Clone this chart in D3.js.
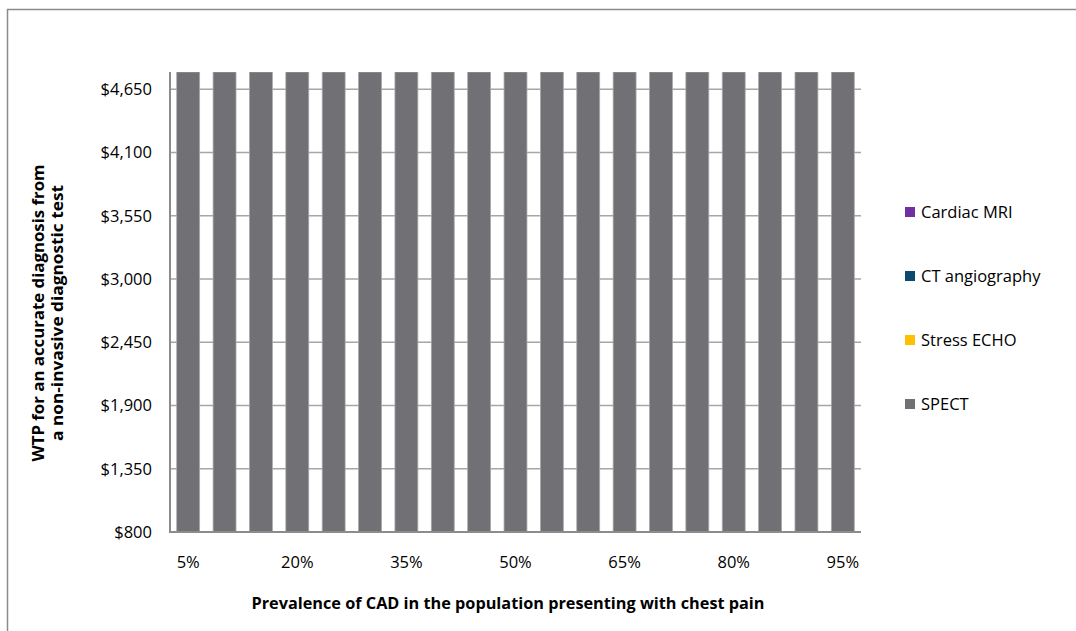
<!DOCTYPE html>
<html><head><meta charset="utf-8">
<script src="https://cdn.jsdelivr.net/npm/d3@7"></script>
<style>
html,body{margin:0;padding:0;background:#fff;}
svg{display:block;}
text{font-family:"Open Sans","Noto Sans",sans-serif;fill:#000;}
</style></head>
<body><svg id="c" width="1076" height="631"></svg>
<script>
const categories = ["5%","10%","15%","20%","25%","30%","35%","40%","45%","50%","55%","60%","65%","70%","75%","80%","85%","90%","95%"];
const tickLabelsX = ["5%","20%","35%","50%","65%","80%","95%"];
const yTicks = [800,1350,1900,2450,3000,3550,4100,4650];
const seriesNames = ["Cardiac MRI","CT angiography","Stress ECHO","SPECT"];
const seriesColors = ["#7030a0","#0b4a6e","#ffc000","#717074"];
const cardiacMRI = [0,0,0,0,0,0,0,0,0,0,0,0,0,0,0,0,0,0,0];
const ctAngio    = [0,0,0,0,0,0,0,0,0,0,0,0,0,0,0,0,0,0,0];
const stressEcho = [0,0,0,0,0,0,0,0,0,0,0,0,0,0,0,0,0,0,0];
const spect      = [5000,5000,5000,5000,5000,5000,5000,5000,5000,5000,5000,5000,5000,5000,5000,5000,5000,5000,5000];

const svg = d3.select("#c");
svg.append("rect").attr("x",7.5).attr("y",9.5).attr("width",1080).attr("height",640)
  .attr("fill","none").attr("stroke","#8c8c8c").attr("stroke-width",1.5);

const L=170, R=861, T=72, B=532;
const FS = 16.5;
const x = d3.scaleBand().domain(categories).range([L,R]).paddingInner(0.37).paddingOuter(0.185);
const y = d3.scaleLinear().domain([800,4800]).range([B,T]);

const rows = categories.map((c,i)=>({cat:c,"Cardiac MRI":cardiacMRI[i],"CT angiography":ctAngio[i],"Stress ECHO":stressEcho[i],"SPECT":spect[i]}));
const stack = d3.stack().keys(["SPECT","Stress ECHO","CT angiography","Cardiac MRI"]);
const stacked = stack(rows);

svg.append("g").selectAll("line").data(yTicks.slice(1)).join("line")
  .attr("x1",L).attr("x2",R).attr("y1",d=>y(d)).attr("y2",d=>y(d))
  .attr("stroke","#a6a6a6").attr("stroke-width",1.5);

svg.append("clipPath").attr("id","pc").append("rect").attr("x",L).attr("y",T).attr("width",R-L).attr("height",B-T);
const gb = svg.append("g").attr("clip-path","url(#pc)");
stacked.forEach(s=>{
  const col = seriesColors[seriesNames.indexOf(s.key)];
  gb.selectAll(null).data(s.filter(d=>d[1]>d[0])).join("rect")
    .attr("x",d=>x(d.data.cat)).attr("width",x.bandwidth())
    .attr("y",d=>y(Math.min(d[1],4800))).attr("height",d=>y(Math.max(d[0],800))-y(Math.min(d[1],4800)))
    .attr("fill",col).attr("stroke","#a9a9ab").attr("stroke-width",0.8);
});

svg.append("line").attr("x1",L).attr("x2",L).attr("y1",T).attr("y2",B+1).attr("stroke","#8c8c8c").attr("stroke-width",2);
svg.append("line").attr("x1",L-1).attr("x2",R).attr("y1",B).attr("y2",B).attr("stroke","#8c8c8c").attr("stroke-width",2);

const yAxis = d3.axisLeft(y).tickValues(yTicks).tickSize(0).tickPadding(18).tickFormat(d=>"$"+d3.format(",")(d));
const gy = svg.append("g").attr("transform",`translate(${L},0)`).call(yAxis);
gy.select(".domain").remove();
gy.selectAll("text").attr("font-size",FS).attr("font-family","'Open Sans',sans-serif").attr("fill","#000");

const xAxis = d3.axisBottom(x).tickValues(tickLabelsX).tickSize(0).tickPadding(24);
const gx = svg.append("g").attr("transform",`translate(0,${B})`).call(xAxis);
gx.select(".domain").remove();
gx.selectAll("text").attr("font-size",FS).attr("font-family","'Open Sans',sans-serif").attr("fill","#000");

svg.append("text").attr("x",508).attr("y",609).attr("text-anchor","middle")
  .attr("font-size",16).attr("font-weight","bold").attr("textLength",513).attr("lengthAdjust","spacingAndGlyphs")
  .text("Prevalence of CAD in the population presenting with chest pain");
const yt = svg.append("text").attr("transform","translate(44,313) rotate(-90)").attr("text-anchor","middle")
  .attr("font-size",16).attr("font-weight","bold");
yt.append("tspan").attr("x",0).attr("y",0).attr("textLength",297).attr("lengthAdjust","spacingAndGlyphs").text("WTP for an accurate diagnosis from");
yt.append("tspan").attr("x",0).attr("y",19).attr("textLength",256).attr("lengthAdjust","spacingAndGlyphs").text("a non-invasive diagnostic test");

const lg = svg.append("g");
const legY = [212,276,340,404];
seriesNames.forEach((n,i)=>{
  lg.append("rect").attr("x",905).attr("y",legY[i]-5).attr("width",10).attr("height",10).attr("fill",seriesColors[i]);
  lg.append("text").attr("x",921).attr("y",legY[i]+6).attr("font-size",FS).text(n);
});
</script></body></html>
